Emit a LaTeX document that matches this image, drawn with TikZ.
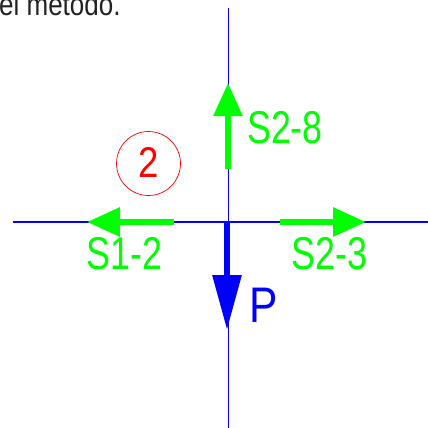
\documentclass[tikz,border=0pt]{standalone}
\usepackage{fontspec}
\setmainfont{Liberation Sans}
\usetikzlibrary{arrows.meta}
\definecolor{cadgreen}{RGB}{0,255,0}
\definecolor{cadblue}{RGB}{0,0,255}
\definecolor{cadred}{RGB}{255,0,0}
\definecolor{bodytext}{RGB}{34,34,34}
\newcommand\cadtext[2]{\scalebox{#1}[1]{#2}}
\tikzset{
  axisline/.style={draw=cadblue, line width=1.1pt},
  force/.style={draw=cadgreen, line width=6pt, -{Triangle[length=33pt,width=28pt]}},
  load/.style={draw=cadblue, line width=6pt, -{Triangle[length=55pt,width=28pt]}},
  lblg/.style={text=cadgreen, inner sep=0pt, font=\fontsize{46}{50}\selectfont},
  lblb/.style={text=cadblue, inner sep=0pt, font=\fontsize{50}{54}\selectfont},
  jointlbl/.style={text=cadred, inner sep=0pt, font=\fontsize{43}{48}\selectfont},
}
\begin{document}
\begin{tikzpicture}[x=1pt,y=-1pt]
\useasboundingbox (0,0) rectangle (428,428);
\begin{scope}
\clip (0,0) rectangle (428,428);
\node[anchor=base west, inner sep=0pt, text=bodytext, font=\fontsize{26}{30}\selectfont] (head) at (-1,16) {\scalebox{1}[1.2]{el método.}};
\end{scope}
% axes
\coordinate (O) at (228,222);
\coordinate (T) at (228,8);
\coordinate (B) at (228,428);
\coordinate (L) at (13,222);
\coordinate (R) at (428,222);
\draw[axisline, line width=0.8pt] (T) -- (B);
\draw[axisline] (L) -- (R);
% forces
\coordinate (upS) at (228,169);
\coordinate (upE) at (228,83);
\coordinate (lS) at (174,222);
\coordinate (lE) at (87,222);
\coordinate (rS) at (280,222);
\coordinate (rE) at (366,222);
\coordinate (dS) at (227,222);
\coordinate (dE) at (227,330);
\draw[force] (upS) -- (upE);
\draw[force] (lS) -- (lE);
\draw[force] (rS) -- (rE);
\draw[load] (dS) -- (dE);
% labels
\node[lblg] (s28) at (285,128) {\cadtext{0.78}{S2-8}};
\node[lblg] (s12) at (124.5,254) {\cadtext{0.78}{S1-2}};
\node[lblg] (s23) at (329.5,254) {\cadtext{0.78}{S2-3}};
\node[lblb] (p) at (263.5,305) {\cadtext{0.85}{P}};
% joint
\node[draw=cadred, line width=0.7pt, circle, minimum size=64pt, inner sep=0pt] (j) at (148.5,163.5) {};
\node[jointlbl] (jn) at (149,162.5) {\cadtext{0.85}{2}};
\end{tikzpicture}
\end{document}
